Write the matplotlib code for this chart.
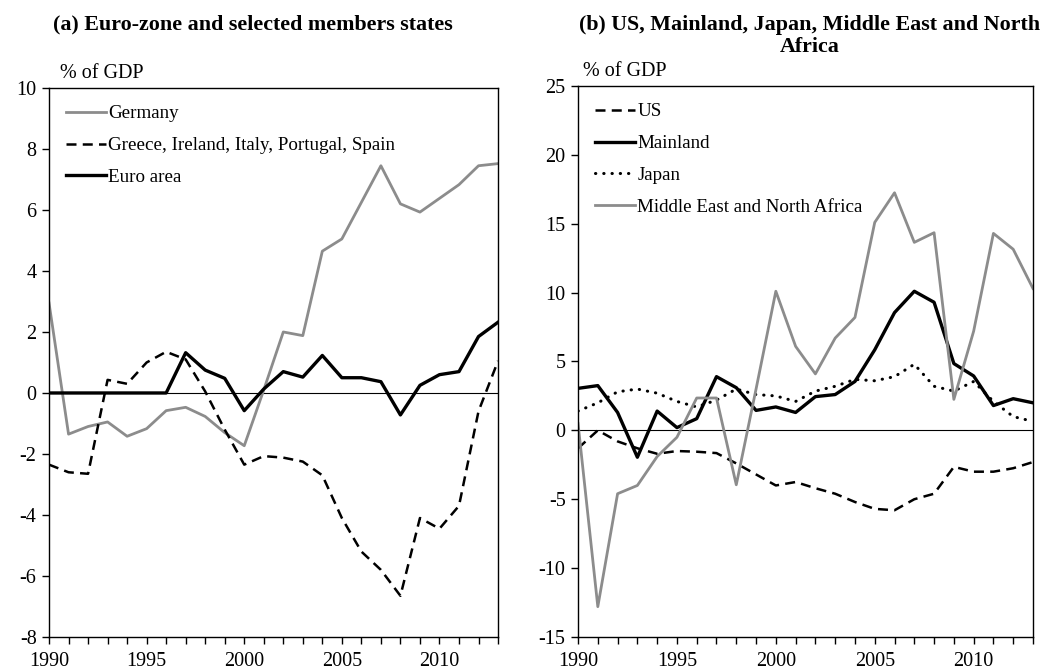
import matplotlib
matplotlib.use("Agg")
import matplotlib.pyplot as plt
from matplotlib.ticker import MultipleLocator

plt.rcParams['font.family'] = ['Liberation Serif', 'DejaVu Serif']
plt.rcParams['axes.unicode_minus'] = False

years = list(range(1990, 2014))

# panel (a)
germany = [2.95, -1.35, -1.1, -0.95, -1.42, -1.17, -0.58, -0.47, -0.77, -1.3,
           -1.73, 0.1, 2.0, 1.88, 4.65, 5.05, 6.25, 7.45, 6.2, 5.93,
           6.38, 6.83, 7.45, 7.52]
giips = [-2.35, -2.6, -2.65, 0.43, 0.3, 1.0, 1.35, 1.1, 0.05, -1.2,
         -2.35, -2.07, -2.12, -2.25, -2.7, -4.1, -5.2, -5.8, -6.65, -4.1,
         -4.45, -3.7, -0.6, 1.05]
euro_area = [0, 0, 0, 0, 0, 0, 0, 1.32, 0.75, 0.48,
             -0.58, 0.13, 0.7, 0.52, 1.23, 0.5, 0.5, 0.37, -0.72, 0.25,
             0.6, 0.7, 1.85, 2.32]

# panel (b)
us = [-1.3, 0.0, -0.8, -1.3, -1.7, -1.5, -1.55, -1.65, -2.4, -3.2,
      -4.0, -3.75, -4.2, -4.6, -5.2, -5.7, -5.8, -5.0, -4.6, -2.65,
      -3.0, -3.0, -2.75, -2.3]
mainland = [3.05, 3.25, 1.3, -1.95, 1.4, 0.2, 0.85, 3.9, 3.1, 1.45,
            1.7, 1.3, 2.45, 2.6, 3.55, 5.85, 8.55, 10.1, 9.3, 4.85,
            3.95, 1.8, 2.3, 2.0]
japan = [1.4, 2.0, 2.8, 3.0, 2.7, 2.1, 1.7, 2.2, 3.0, 2.6,
         2.5, 2.1, 2.85, 3.2, 3.7, 3.6, 3.9, 4.8, 3.2, 2.85,
         3.55, 2.1, 1.0, 0.65]
mena = [0.5, -12.8, -4.6, -4.0, -1.9, -0.5, 2.35, 2.35, -3.95, 3.0,
        10.1, 6.1, 4.1, 6.7, 8.2, 15.1, 17.25, 13.65, 14.35, 2.25,
        7.2, 14.3, 13.15, 10.3]

GREY = '#8c8c8c'
FS = 14.5
LEG_FS = 13.7

fig = plt.figure(figsize=(10.43, 6.7), dpi=100)
ax1 = fig.add_axes([0.047, 0.0493, 0.4305, 0.8194])
ax2 = fig.add_axes([0.5542, 0.0493, 0.4362, 0.8223])

ax1.plot(years, germany, color=GREY, lw=2.0, label='Germany')
ax1.plot(years, giips, color='black', lw=1.8, linestyle=(0, (4, 2.5)),
         label='Greece, Ireland, Italy, Portugal, Spain')
ax1.plot(years, euro_area, color='black', lw=2.4, label='Euro area')
ax1.set_ylim(-8, 10)
ax1.yaxis.set_major_locator(MultipleLocator(2))

ax2.plot(years, us, color='black', lw=1.8, linestyle=(0, (4, 2.5)), label='US')
ax2.plot(years, mainland, color='black', lw=2.4, label='Mainland')
ax2.plot(years, japan, color='black', lw=2.2, linestyle=(0, (0.1, 2.6)),
         dash_capstyle='round', label='Japan')
ax2.plot(years, mena, color=GREY, lw=2.0, label='Middle East and North Africa')
ax2.set_ylim(-15, 25)
ax2.yaxis.set_major_locator(MultipleLocator(5))

for ax in (ax1, ax2):
    ax.set_xlim(1990, 2013)
    ax.axhline(0, color='black', lw=0.8, zorder=1)
    ax.xaxis.set_major_locator(MultipleLocator(5))
    ax.xaxis.set_minor_locator(MultipleLocator(1))
    ax.tick_params(axis='both', which='both', direction='out', labelsize=FS,
                   width=1.0, color='black')
    ax.tick_params(axis='both', which='major', length=5)
    ax.tick_params(axis='x', which='minor', length=5)
    ax.tick_params(axis='x', pad=6)
    ax.tick_params(axis='y', pad=4)
    for s in ax.spines.values():
        s.set_linewidth(1.0)
    ax.legend(loc='upper left', frameon=False, fontsize=LEG_FS, handlelength=2.1,
              handletextpad=0.12, labelspacing=0.76,
              bbox_to_anchor=(0.0, 1.0), borderaxespad=0.5)

fig.text(0.2426, 1 - 24 / 670, '(a) Euro-zone and selected members states',
         ha='center', va='center', fontsize=15.8, fontweight='bold')
fig.text(810 / 1043, 1 - 36 / 670, '(b) US, Mainland, Japan, Middle East and North\nAfrica',
         ha='center', va='center', fontsize=15.8, fontweight='bold', linespacing=1.1)
fig.text(60 / 1043, 1 - 73 / 670, '% of GDP', ha='left', va='center', fontsize=FS)
fig.text(583 / 1043, 1 - 72 / 670, '% of GDP', ha='left', va='center', fontsize=FS)

fig.savefig('out.png', dpi=100)
